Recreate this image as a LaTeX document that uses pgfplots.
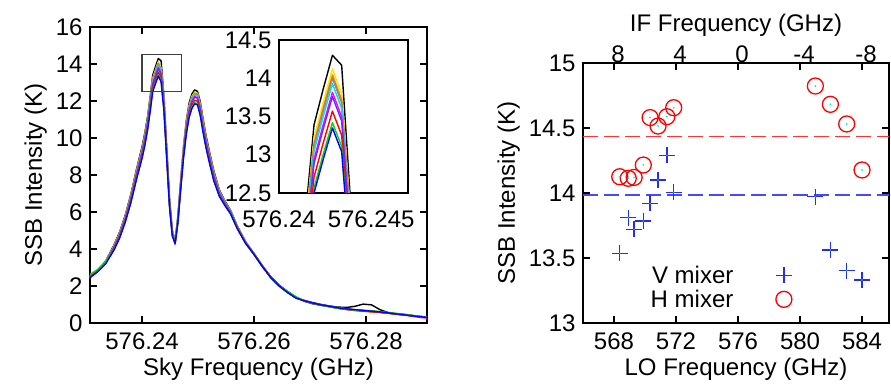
\documentclass[border=0pt]{standalone}
\usepackage{fontspec}
\setmainfont{Liberation Sans}
\usepackage{pgfplots}
\usepackage{pgfplotstable}
\pgfplotsset{compat=1.18}

\newcommand{\figfont}{\fontsize{24bp}{28bp}\selectfont}

\definecolor{cK}{RGB}{0,0,0}
\definecolor{cY}{RGB}{255,235,0}
\definecolor{cO}{RGB}{255,160,0}
\definecolor{cC}{RGB}{255,90,40}
\definecolor{cG}{RGB}{140,140,140}
\definecolor{cCy}{RGB}{0,225,235}
\definecolor{cM}{RGB}{255,0,255}
\definecolor{cP}{RGB}{110,40,255}
\definecolor{cR}{RGB}{255,0,0}
\definecolor{cGr}{RGB}{0,220,0}
\definecolor{cB}{RGB}{0,0,255}
\definecolor{vblue}{RGB}{40,40,255}
\definecolor{hred}{RGB}{255,0,0}

% Sky spectra: f = (sky frequency - 576 GHz) in MHz, intensities in K
\pgfplotstableread{
f      K      Y      O      C      G      CY     M      P      R      GR     B
230.5  2.45   2.48   2.42   2.44   2.46   2.50   2.44   2.43   2.47   2.58   2.40
232.0  2.82   2.84   2.80   2.80   2.83   2.85   2.79   2.78   2.77   2.88   2.75
233.5  3.35   3.32   3.28   3.27   3.31   3.30   3.28   3.25   3.24   3.30   3.20
235.0  4.23   4.18   4.16   4.15   4.14   4.12   4.09   4.07   4.02   3.97   3.95
236.0  4.93   4.87   4.84   4.83   4.82   4.80   4.76   4.74   4.68   4.62   4.60
237.0  5.838  5.766  5.736  5.723  5.715  5.687  5.641  5.617  5.540  5.478  5.45
238.0  6.963  6.877  6.841  6.825  6.817  6.782  6.728  6.700  6.607  6.534  6.50
239.0  8.302  8.200  8.157  8.138  8.127  8.086  8.021  7.988  7.878  7.790  7.75
240.0  9.534  9.416  9.367  9.345  9.333  9.286  9.212  9.173  9.047  8.946  8.90
240.5  10.284 10.157 10.104 10.080 10.068 10.017 9.936  9.895  9.758  9.650  9.60
241.0  11.194 11.056 10.999 10.973 10.959 10.904 10.816 10.771 10.622 10.504 10.45
241.5  12.372 12.220 12.156 12.128 12.112 12.051 11.954 11.905 11.741 11.610 11.55
241.9  13.390 13.225 13.156 13.125 13.109 13.043 12.938 12.884 12.706 12.565 12.50
242.4  13.860 13.690 13.620 13.587 13.570 13.502 13.393 13.337 13.154 13.007 12.94
242.9  14.300 14.124 14.051 14.018 14.000 13.929 13.817 13.760 13.570 13.419 13.35
243.4  14.170 13.796 13.725 13.692 13.675 13.606 13.496 13.440 13.255 13.108 13.04
243.9  12.319 12.167 12.104 12.075 12.060 11.999 11.903 11.853 11.690 11.560 11.50
244.4  9.534  9.416  9.367  9.345  9.333  9.286  9.212  9.173  9.047  8.946  8.90
244.9  6.749  6.665  6.631  6.615  6.607  6.573  6.521  6.493  6.404  6.333  6.30
245.4  5.035  4.973  4.947  4.935  4.929  4.904  4.865  4.844  4.778  4.724  4.70
245.9  4.42   4.38   4.36   4.36   4.35   4.34   4.25   4.31   4.33   4.35   4.30
246.4  5.784  5.713  5.684  5.670  5.663  5.634  5.589  5.566  5.489  5.428  5.40
246.9  7.713  7.618  7.578  7.560  7.551  7.512  7.452  7.421  7.319  7.237  7.20
247.4  9.534  9.416  9.367  9.345  9.333  9.286  9.212  9.173  9.047  8.946  8.90
247.9  10.926 10.792 10.736 10.710 10.697 10.643 10.557 10.513 10.368 10.253 10.20
248.4  11.890 11.744 11.683 11.655 11.641 11.582 11.489 11.441 11.283 11.158 11.10
248.9  12.380 12.250 12.190 12.160 12.150 12.090 11.990 11.950 11.790 11.660 11.60
249.4  12.600 12.480 12.430 12.400 12.390 12.330 12.240 12.200 12.040 11.910 11.85
249.9  12.520 12.420 12.370 12.350 12.340 12.280 12.190 12.150 11.990 11.860 11.80
250.4  11.960 11.830 11.770 11.740 11.730 11.670 11.580 11.540 11.380 11.260 11.20
250.9  11.033 10.897 10.841 10.815 10.802 10.747 10.661 10.616 10.470 10.354 10.30
251.4  10.176 10.051 9.999  9.975  9.963  9.912  9.833  9.792  9.657  9.549  9.50
252.0  9.319  9.205  9.157  9.135  9.124  9.078  9.005  8.967  8.844  8.745  8.70
252.8  8.248  8.147  8.104  8.085  8.075  8.034  7.970  7.936  7.827  7.740  7.70
253.8  7.200  7.140  7.110  7.100  7.090  7.060  7.010  6.990  6.920  6.870  6.85
254.8  6.60   6.55   6.53   6.52   6.52   6.50   6.47   6.45   6.40   6.37   6.35
255.8  6.10   6.06   6.04   6.03   6.03   6.02   5.99   5.98   5.94   5.92   5.90
257.0  5.26   5.23   5.22   5.21   5.21   5.20   5.18   5.17   5.14   5.12   5.10
258.5  4.40   4.38   4.37   4.37   4.36   4.35   4.34   4.33   4.32   4.31   4.30
260.0  3.76   3.75   3.76   3.74   3.73   3.74   3.72   3.71   3.73   3.70   3.70
261.5  3.10   3.08   3.09   3.07   3.06   3.07   3.06   3.04   3.08   3.06   3.05
263.0  2.49   2.46   2.50   2.47   2.48   2.44   2.46   2.45   2.50   2.47   2.45
264.5  2.02   2.01   2.04   2.03   2.02   2.00   2.03   1.99   2.05   2.01   2.00
266.0  1.66   1.63   1.68   1.66   1.64   1.65   1.70   1.64   1.70   1.72   1.65
267.5  1.37   1.34   1.38   1.36   1.35   1.36   1.39   1.35   1.40   1.42   1.35
269.0  1.22   1.18   1.21   1.19   1.20   1.19   1.18   1.21   1.17   1.19   1.20
270.5  1.10   1.03   1.06   1.05   1.07   1.04   1.06   1.09   1.04   1.06   1.08
272.0  1.00   0.95   0.97   0.96   0.98   0.95   0.97   0.99   0.96   0.97   0.98
273.5  0.92   0.86   0.89   0.90   0.91   0.88   0.90   0.91   0.89   0.87   0.90
275.0  0.86   0.78   0.80   0.82   0.83   0.80   0.81   0.83   0.80   0.79   0.82
276.5  0.84   0.72   0.74   0.75   0.77   0.74   0.75   0.77   0.73   0.74   0.76
278.0  0.90   0.66   0.69   0.70   0.72   0.70   0.70   0.72   0.68   0.70   0.72
279.5  1.02   0.62   0.65   0.66   0.68   0.66   0.66   0.68   0.64   0.68   0.68
281.0  0.98   0.58   0.61   0.62   0.64   0.63   0.62   0.63   0.61   0.66   0.64
282.5  0.72   0.54   0.57   0.58   0.59   0.58   0.58   0.59   0.58   0.62   0.60
284.0  0.56   0.50   0.53   0.53   0.54   0.53   0.53   0.54   0.53   0.57   0.55
285.5  0.49   0.47   0.48   0.48   0.49   0.49   0.47   0.48   0.48   0.52   0.49
287.0  0.44   0.43   0.44   0.45   0.45   0.45   0.42   0.44   0.44   0.47   0.44
288.5  0.39   0.38   0.38   0.39   0.39   0.39   0.35   0.38   0.38   0.41   0.38
290.0  0.34   0.33   0.33   0.34   0.34   0.34   0.29   0.33   0.33   0.35   0.33
291.0  0.31   0.30   0.30   0.31   0.31   0.31   0.26   0.30   0.30   0.32   0.30
}\spectra

% LO frequency (GHz), V mixer and H mixer SSB intensity (K)
\pgfplotstableread{
LO      V       H
568.37  13.536  14.125
568.92  13.810  14.113
569.30  13.720  14.120
569.89  13.785  14.215
570.33  13.920  14.580
570.84  14.100  14.515
571.41  14.290  14.587
571.85  14.005  14.656
580.99  13.972  14.823
581.96  13.562  14.682
583.01  13.402  14.531
584.00  13.331  14.177
}\mixers

\pgfplotsset{
  base/.style={
    scale only axis,
    axis line style={line width=2.2bp},
    tick style={line width=1.8bp, black},
    major tick length=7bp,
    tick align=inside,
    every tick label/.append style={font=\figfont},
    label style={font=\figfont},
    /pgf/number format/assume math mode=true,
    xticklabel style={yshift=-6bp},
    yticklabel style={xshift=-4bp},
  },
  spec/.style={line width=1.4bp, line join=round},
  mylegimg/.style={legend image code/.code={%
      \path[draw=none, fill=none] (-19bp,-4bp) rectangle (60bp,4bp);
      \draw[##1, mark repeat=2, mark phase=2] plot coordinates {(0bp,0bp) (30bp,0bp) (60bp,0bp)};}},
}

\begin{document}
\begin{tikzpicture}
\path[use as bounding box] (0,0) rectangle (891bp,392bp);

% ---------- left: spectra ----------
\begin{axis}[base,
  at={(90bp,69bp)}, anchor=south west,
  width=337bp, height=296bp,
  xmin=230.7, xmax=290.9, ymin=0, ymax=16,
  xtick={240,260,280}, xticklabels={576.24,576.26,576.28},
  ytick={0,2,4,6,8,10,12,14,16}, yticklabels={0,2,4,6,8,10,12,14,16},
  xlabel={Sky Frequency (GHz)}, ylabel={SSB Intensity (K)},
  xlabel style={yshift=-2bp},
  ylabel style={yshift=2bp},
]
\addplot[spec, cK]  table[x=f, y=K]  {\spectra};
\addplot[spec, cY]  table[x=f, y=Y]  {\spectra};
\addplot[spec, cO]  table[x=f, y=O]  {\spectra};
\addplot[spec, cC]  table[x=f, y=C]  {\spectra};
\addplot[spec, cG]  table[x=f, y=G]  {\spectra};
\addplot[spec, cCy] table[x=f, y=CY] {\spectra};
\addplot[spec, cM]  table[x=f, y=M]  {\spectra};
\addplot[spec, cP]  table[x=f, y=P]  {\spectra};
\addplot[spec, cR]  table[x=f, y=R]  {\spectra};
\addplot[spec, cGr] table[x=f, y=GR] {\spectra};
\addplot[spec, cB]  table[x=f, y=B]  {\spectra};
\addplot[black!75, line width=1.2bp] coordinates {(240,12.5) (247,12.5) (247,14.5) (240,14.5) (240,12.5)};
\end{axis}

% ---------- inset ----------
\begin{axis}[base,
  at={(279bp,199bp)}, anchor=south west,
  width=129bp, height=153bp,
  axis background/.style={fill=white},
  axis line style={line width=2bp},
  major tick length=0bp,
  xmin=240, xmax=247, ymin=12.5, ymax=14.5,
  xtick={240,245}, xticklabels={576.24,576.245},
  xticklabel style={yshift=-8bp},
  ytick={12.5,13,13.5,14,14.5}, yticklabels={12.5,13,13.5,14,14.5},
]
\addplot[spec, cK]  table[x=f, y=K]  {\spectra};
\addplot[spec, cY]  table[x=f, y=Y]  {\spectra};
\addplot[spec, cO]  table[x=f, y=O]  {\spectra};
\addplot[spec, cC]  table[x=f, y=C]  {\spectra};
\addplot[spec, cG]  table[x=f, y=G]  {\spectra};
\addplot[spec, cCy] table[x=f, y=CY] {\spectra};
\addplot[spec, cM]  table[x=f, y=M]  {\spectra};
\addplot[spec, cP]  table[x=f, y=P]  {\spectra};
\addplot[spec, cR]  table[x=f, y=R]  {\spectra};
\addplot[spec, cGr] table[x=f, y=GR] {\spectra};
\addplot[spec, cB]  table[x=f, y=B]  {\spectra};
\end{axis}

% ---------- right: IF top axis ----------
\begin{axis}[base,
  at={(583bp,69bp)}, anchor=south west,
  width=306bp, height=260bp,
  axis x line*=top, axis y line=none,
  x dir=reverse,
  xmin=-9.48, xmax=10.26, ymin=13, ymax=15,
  major tick length=0bp,
  xtick={8,4,0,-4,-8}, xticklabels={8,4,0,-4,-8},
  xticklabel style={yshift=3bp},
  xlabel={IF Frequency (GHz)},
  xlabel style={yshift=2bp},
]
\addplot[draw=none] coordinates {(0,14)};
\end{axis}

% ---------- right: LO axis ----------
\begin{axis}[base,
  at={(583bp,69bp)}, anchor=south west,
  width=306bp, height=260bp,
  xmin=566, xmax=585.74, ymin=13, ymax=15,
  xtick={568,572,576,580,584}, xticklabels={568,572,576,580,584},
  ytick={13,13.5,14,14.5,15}, yticklabels={13,13.5,14,14.5,15},
  xlabel={LO Frequency (GHz)}, ylabel={SSB Intensity (K)},
  xlabel style={yshift=-2bp},
  ylabel style={yshift=2bp},
  legend style={draw=none, fill=none, font=\figfont, at={(0.765,0.137)}, anchor=east,
    nodes={inner sep=1.5bp}, row sep=2bp},
  legend cell align=right, legend plot pos=right,
]
\addplot[hred!80, dashed, dash pattern=on 15bp off 6bp, line width=1.5bp, forget plot] coordinates {(566,14.436) (585.74,14.436)};
\addplot[vblue!85, dashed, dash pattern=on 15bp off 6bp, line width=1.5bp, forget plot] coordinates {(566,13.985) (585.74,13.985)};
\addplot[only marks, mark=+, mark size=8bp, vblue, mark options={line width=1.4bp}, mylegimg]
  table[x=LO, y=V] {\mixers};
\addlegendentry{V mixer}
\addplot[only marks, mark=o, mark size=8bp, hred, mark options={line width=1.3bp}, mylegimg]
  table[x=LO, y=H] {\mixers};
\addlegendentry{H mixer}
\addplot[only marks, mark=*, mark size=0.6bp, cGr, forget plot] table[x=LO, y=V] {\mixers};
\addplot[only marks, mark=*, mark size=0.6bp, cCy, forget plot] table[x=LO, y=H] {\mixers};
\end{axis}
\end{tikzpicture}
\end{document}
